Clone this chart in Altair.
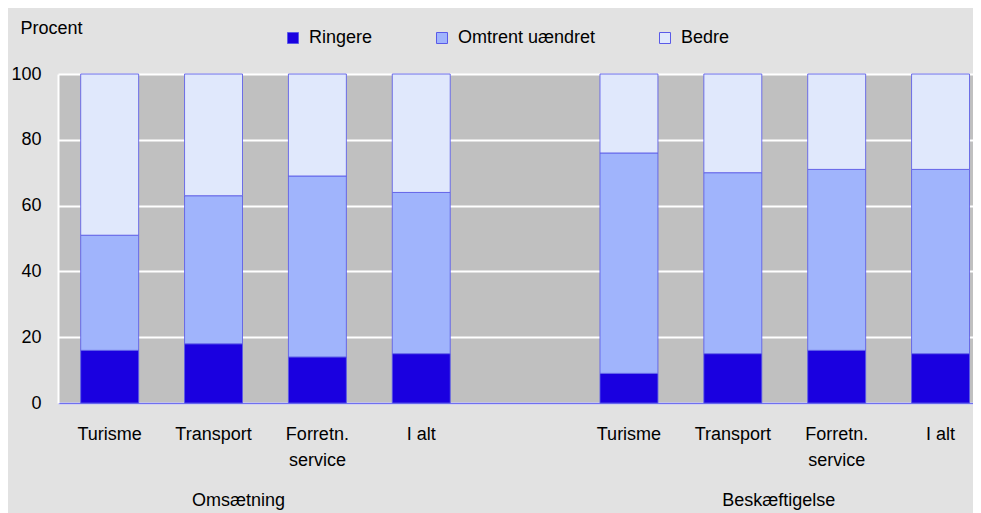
import json
import altair as alt
import pandas as pd

# ---- data ----
keys = ["o_tur", "o_tra", "o_for", "o_alt", "gap", "b_tur", "b_tra", "b_for", "b_alt"]
tick_labels = ["Turisme", "Transport", "Forretn.|service", "I alt", "",
               "Turisme", "Transport", "Forretn.|service", "I alt"]
series = ["Ringere", "Omtrent uændret", "Bedre"]
ringere = [16, 18, 14, 15, None, 9, 15, 16, 15]
omtrent = [35, 45, 55, 49, None, 67, 55, 55, 56]
bedre = [49, 37, 31, 36, None, 24, 30, 29, 29]
groups = ["Omsætning", "Beskæftigelse"]
group_anchor = ["o_tra", "b_tra"]

colors = ["#1a00e0", "#a0b4fc", "#e0e8fc"]
FONT = "Liberation Sans"

rows = []
for k, r, o, b in zip(keys, ringere, omtrent, bedre):
    if r is None:
        continue
    for i, (s, v) in enumerate(zip(series, [r, o, b])):
        rows.append({"key": k, "serie": s, "value": v, "order": i})
df = pd.DataFrame(rows)

label_map = json.dumps(dict(zip(keys, tick_labels)), ensure_ascii=False)

x_scale = alt.Scale(domain=keys, paddingInner=0.442, paddingOuter=0.126, align=0.867)

bars = alt.Chart(df).mark_bar(stroke="#5a5ae8", strokeWidth=1, strokeOpacity=0.85).encode(
    x=alt.X("key:N", scale=x_scale, sort=keys,
            axis=alt.Axis(title=None, labelAngle=0, ticks=False, labelPadding=22,
                          labelExpr=f"split({label_map}[datum.value], '|')",
                          labelLineHeight=26, domainColor="#7070f0", domainWidth=1.5,
                          labelFontSize=18, labelFont=FONT, labelColor="#000000")),
    y=alt.Y("value:Q", stack="zero", scale=alt.Scale(domain=[0, 100], nice=False),
            axis=alt.Axis(title="Procent", values=[0, 20, 40, 60, 80, 100], ticks=False,
                          labelPadding=17, gridColor="#ffffff", gridWidth=2, gridOpacity=1,
                          domainColor="#ffffff", domainWidth=2,
                          labelFontSize=18, labelFont=FONT, labelColor="#000000",
                          titleAngle=0, titleAlign="left", titleBaseline="alphabetic",
                          titleX=-38, titleY=-41, titleFontSize=18, titleFont=FONT,
                          titleFontWeight="normal", titleColor="#000000")),
    color=alt.Color("serie:N", scale=alt.Scale(domain=series, range=colors),
                    legend=alt.Legend(title=None, orient="none", direction="horizontal",
                                      legendX=226, legendY=-45, symbolType="square",
                                      symbolSize=121, symbolStrokeColor="#5a5ae8",
                                      symbolStrokeWidth=1, symbolOpacity=1,
                                      labelFontSize=18, labelFont=FONT, labelColor="#000000",
                                      labelOffset=7, columnPadding=60, padding=0)),
    order=alt.Order("order:Q", sort="ascending"),
)

gdf0 = pd.DataFrame({"group": [groups[0]], "key": [group_anchor[0]]})
gdf1 = pd.DataFrame({"group": [groups[1]], "key": [group_anchor[1]]})

g0 = alt.Chart(gdf0).mark_text(fontSize=18, font=FONT, color="#000000", dx=25,
                               baseline="alphabetic").encode(
    x=alt.X("key:N", scale=x_scale, sort=keys), y=alt.value(432), text="group:N")
g1 = alt.Chart(gdf1).mark_text(fontSize=18, font=FONT, color="#000000", dx=46,
                               baseline="alphabetic").encode(
    x=alt.X("key:N", scale=x_scale, sort=keys), y=alt.value(432), text="group:N")

chart = alt.layer(bars, g0, g1).properties(
    width=915, height=329,
    autosize=alt.AutoSizeParams(type="none"),
    padding={"left": 50, "top": 66, "right": 0, "bottom": 110},
    background="#e2e2e2",
).configure_view(fill="#c0c0c0", stroke="transparent")

chart.save("out.html", embed_options={"renderer": "svg", "actions": False})
